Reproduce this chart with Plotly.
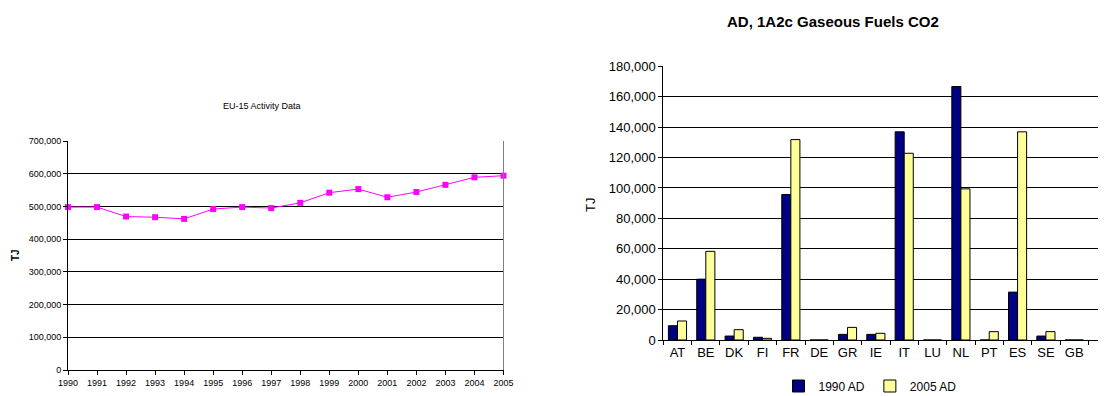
import plotly.graph_objects as go

years = list(range(1990, 2006))
eu15_tj = [498000, 498000, 469000, 467000, 462000, 492000, 498000, 495000,
           511000, 542000, 553000, 528000, 544000, 566000, 589000, 594000]

countries = ["AT", "BE", "DK", "FI", "FR", "DE", "GR", "IE", "IT", "LU",
             "NL", "PT", "ES", "SE", "GB"]
ad_1990 = [9400, 40000, 2600, 1800, 95700, 0, 3700, 3700, 136900, 0,
           166700, 0, 31500, 2600, 0]
ad_2005 = [12500, 58300, 6800, 1100, 131800, 0, 8300, 4400, 122800, 0,
           99400, 5500, 136900, 5500, 0]

# page body has an 8px default margin: figure is drawn offset by (8, 8)
OFF = 8
W, H = 1106 - OFF, 396 - OFF
FONT = "Liberation Sans, Arial, sans-serif"

fig = go.Figure()

fig.add_trace(go.Scatter(
    x=years, y=eu15_tj, mode="lines+markers",
    line=dict(color="#FF00FF", width=1),
    marker=dict(symbol="square", size=6, color="#FF00FF"),
    xaxis="x", yaxis="y", showlegend=False, cliponaxis=False))

fig.add_trace(go.Bar(
    x=countries, y=ad_1990, name="1990 AD",
    marker=dict(color="#000080", line=dict(color="black", width=1)),
    xaxis="x2", yaxis="y2"))
fig.add_trace(go.Bar(
    x=countries, y=ad_2005, name="2005 AD",
    marker=dict(color="#FFFF99", line=dict(color="black", width=1)),
    xaxis="x2", yaxis="y2"))

def px_x(p):
    return (p - OFF) / W

def px_y(p):
    return (H - (p - OFF)) / H

fig.update_layout(
    width=W, height=H,
    margin=dict(l=0, r=0, t=0, b=0, autoexpand=False),
    paper_bgcolor="white", plot_bgcolor="white",
    font=dict(family=FONT, color="black"),
    barmode="group", bargap=0.36, bargroupgap=0,
    xaxis=dict(domain=[px_x(68), px_x(503.5)], range=[1990, 2005],
               tickmode="linear", dtick=1, tick0=1990, tickangle=0,
               showgrid=False, zeroline=False, automargin=False,
               showline=True, linecolor="black", linewidth=1,
               ticks="outside", ticklen=4, tickcolor="black",
               tickfont=dict(size=9), anchor="y"),
    yaxis=dict(domain=[px_y(370), px_y(141)], range=[0, 700000],
               tickmode="linear", dtick=100000, tickformat=",d",
               showgrid=True, gridcolor="black", gridwidth=1,
               zeroline=False, automargin=False,
               showline=True, linecolor="black", linewidth=1,
               ticks="outside", ticklen=4, tickcolor="black",
               tickfont=dict(size=9), anchor="x"),
    xaxis2=dict(domain=[px_x(663.3), 1.0], range=[-0.5, 15.12],
                type="category", tickson="boundaries", tickangle=0,
                showgrid=False, zeroline=False, automargin=False,
                showline=True, linecolor="black", linewidth=1,
                ticks="outside", ticklen=4, tickcolor="black",
                tickfont=dict(size=13), anchor="y2"),
    yaxis2=dict(domain=[px_y(340), px_y(66.3)], range=[0, 180000],
                tickmode="linear", dtick=20000, tickformat=",d",
                showgrid=True, gridcolor="black", gridwidth=1,
                zeroline=False, automargin=False,
                showline=True, linecolor="black", linewidth=1,
                ticks="outside", ticklen=4, tickcolor="black",
                tickfont=dict(size=13), anchor="x2"),
    legend=dict(orientation="h", x=px_x(870), y=px_y(386),
                xanchor="center", yanchor="middle",
                font=dict(size=12), itemwidth=30, tracegroupgap=0,
                bgcolor="rgba(0,0,0,0)"),
    shapes=[
        dict(type="line", xref="paper", yref="paper",
             x0=px_x(503.5), x1=px_x(503.5), y0=px_y(370), y1=px_y(141),
             line=dict(color="#808080", width=1)),
    ],
    annotations=[
        dict(text="EU-15 Activity Data", xref="paper", yref="paper",
             x=px_x(262), y=px_y(106), showarrow=False,
             font=dict(size=9), xanchor="center", yanchor="middle"),
        dict(text="<b>TJ</b>", xref="paper", yref="paper",
             x=px_x(16), y=px_y(255), showarrow=False, textangle=-90,
             font=dict(size=10), xanchor="center", yanchor="middle"),
        dict(text="<b>AD, 1A2c Gaseous Fuels CO2</b>", xref="paper", yref="paper",
             x=px_x(833), y=px_y(22), showarrow=False,
             font=dict(size=15), xanchor="center", yanchor="middle"),
        dict(text="TJ", xref="paper", yref="paper",
             x=px_x(590), y=px_y(205), showarrow=False, textangle=-90,
             font=dict(size=13), xanchor="center", yanchor="middle"),
    ],
)

fig.write_html("out.html")
